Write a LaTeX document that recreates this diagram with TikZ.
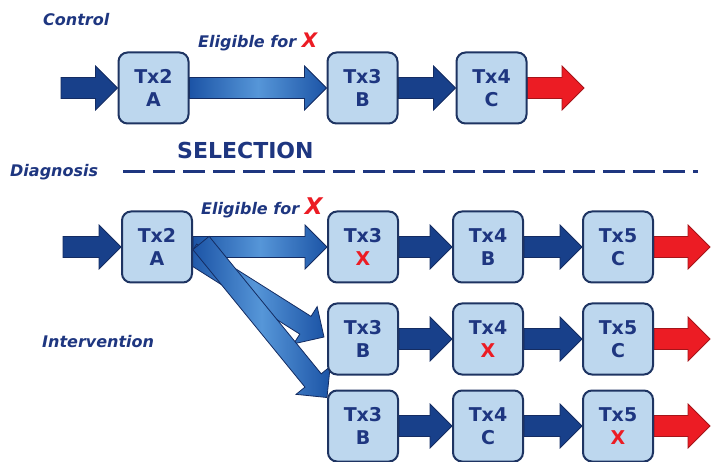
\documentclass[tikz,border=0pt]{standalone}
\usepackage{fontspec}
\setmainfont{DejaVu Sans}
\usetikzlibrary{calc,backgrounds}

\definecolor{azulflecha}{RGB}{24,64,138}
\definecolor{bordeflecha}{RGB}{20,44,98}
\definecolor{azulcaja}{RGB}{189,215,238}
\definecolor{bordecaja}{RGB}{30,52,98}
\definecolor{azultexto}{RGB}{30,54,128}
\definecolor{rojo}{RGB}{236,28,36}
\definecolor{degradoscuro}{RGB}{28,84,166}
\definecolor{degradclaro}{RGB}{86,150,216}

\tikzset{
  caja/.style={draw=bordecaja, fill=azulcaja, line width=2pt, rounded corners=9pt,
    minimum width=70pt, minimum height=71pt, align=center, text=azultexto,
    font=\fontsize{19}{23}\selectfont\bfseries},
  etiqueta/.style={anchor=base west, inner sep=0pt, text=azultexto,
    font=\fontsize{16}{19}\selectfont\bfseries\itshape},
  flechaoscura/.style={draw=bordeflecha, fill=azulflecha, line width=0.8pt},
  flecharoja/.style={draw=rojo!70!black, fill=rojo, line width=0.8pt},
  flechadegradado/.style={draw=bordeflecha, left color=degradoscuro,
    right color=degradoscuro, middle color=degradclaro, line width=0.8pt},
}

% flecha gruesa: #1 estilo, #2 inicio, #3 punta
\newcommand\flecha[3]{%
  \coordinate (fh) at ($(#3)!22pt!(#2)$);
  \path[#1] ($(#2)!10.5pt!90:(#3)$) -- ($(fh)!10.5pt!-90:(#2)$)
    -- ($(fh)!22pt!-90:(#2)$) -- (#3) -- ($(fh)!22pt!90:(#2)$)
    -- ($(fh)!10.5pt!90:(#2)$) -- ($(#2)!10.5pt!-90:(#3)$) -- cycle;
}

\newcommand\rx{\textcolor{rojo}{X}}

\begin{document}
\begin{tikzpicture}[x=1pt, y=-1pt]
    \useasboundingbox (0,0) rectangle (720,462);

    % ~~~~ Rama de control ~~~~%
    \node[etiqueta] (control) at (43,26) {Control};
    \node[etiqueta] (eleg1) at (198,48)
        {Eligible for \textcolor{rojo}{\fontsize{20}{20}\selectfont X}};
    \node[caja] (c2a) at (153.5,88) {Tx2\\A};
    \node[caja] (c3b) at (362.5,88) {Tx3\\B};
    \node[caja] (c4c) at (491.5,88) {Tx4\\C};
    \coordinate (ent1) at (61,88);
    \coordinate (sal1) at (584,88);

    % ~~~~ Seleccion ~~~~%
    \node[anchor=base west, inner sep=0pt, text=azultexto,
        font=\fontsize{22}{26}\selectfont\bfseries] (selec) at (177,159) {SELECTION};
    \node[etiqueta] (diag) at (10,177) {Diagnosis};
    \draw[azultexto, line width=3pt, dash pattern=on 22pt off 8pt] (123,172) -- (698,172);

    % ~~~~ Rama de intervencion ~~~~%
    \node[etiqueta] (interv) at (42,347) {Intervention};
    \node[etiqueta] (eleg2) at (201,215)
        {Eligible for \textcolor{rojo}{\fontsize{23}{23}\selectfont X}};
    \node[caja] (i2a) at (157,247) {Tx2\\A};
    \node[caja] (i13) at (363,247) {Tx3\\\rx};
    \node[caja] (i14) at (488,247) {Tx4\\B};
    \node[caja] (i15) at (618,247) {Tx5\\C};
    \node[caja] (i23) at (363,339) {Tx3\\B};
    \node[caja] (i24) at (488,339) {Tx4\\\rx};
    \node[caja] (i25) at (618,339) {Tx5\\C};
    \node[caja] (i33) at (363,426) {Tx3\\B};
    \node[caja] (i34) at (488,426) {Tx4\\C};
    \node[caja] (i35) at (618,426) {Tx5\\\rx};
    \coordinate (ent2) at (63,247);
    \coordinate (d1ini) at ($(i2a.east)+(-2,6)$);
    \coordinate (d1fin) at ($(i23.west)+(-3,-2)$);
    \coordinate (d2ini) at ($(i2a.east)+(8,-4)$);
    \coordinate (d2fin) at ($(i33.north west)+(0,8)$);
    \coordinate (sal21) at (710,247);
    \coordinate (sal22) at (710,339);
    \coordinate (sal23) at (710,426);

    % ~~~~~ Flechas ~~~~%
    \begin{pgfonlayer}{background}
        \flecha{flechaoscura}{ent1}{c2a.west}
        \flecha{flechadegradado}{c2a.east}{c3b.west}
        \flecha{flechaoscura}{c3b.east}{c4c.west}
        \flecha{flecharoja}{c4c.east}{sal1}

        \flecha{flechaoscura}{ent2}{i2a.west}
        \flecha{flechadegradado}{i2a.east}{i13.west}
        \flecha{flechadegradado}{d1ini}{d1fin}
        \flecha{flechadegradado}{d2ini}{d2fin}

        \flecha{flechaoscura}{i13.east}{i14.west}
        \flecha{flechaoscura}{i14.east}{i15.west}
        \flecha{flecharoja}{i15.east}{sal21}
        \flecha{flechaoscura}{i23.east}{i24.west}
        \flecha{flechaoscura}{i24.east}{i25.west}
        \flecha{flecharoja}{i25.east}{sal22}
        \flecha{flechaoscura}{i33.east}{i34.west}
        \flecha{flechaoscura}{i34.east}{i35.west}
        \flecha{flecharoja}{i35.east}{sal23}
    \end{pgfonlayer}
\end{tikzpicture}
\end{document}
